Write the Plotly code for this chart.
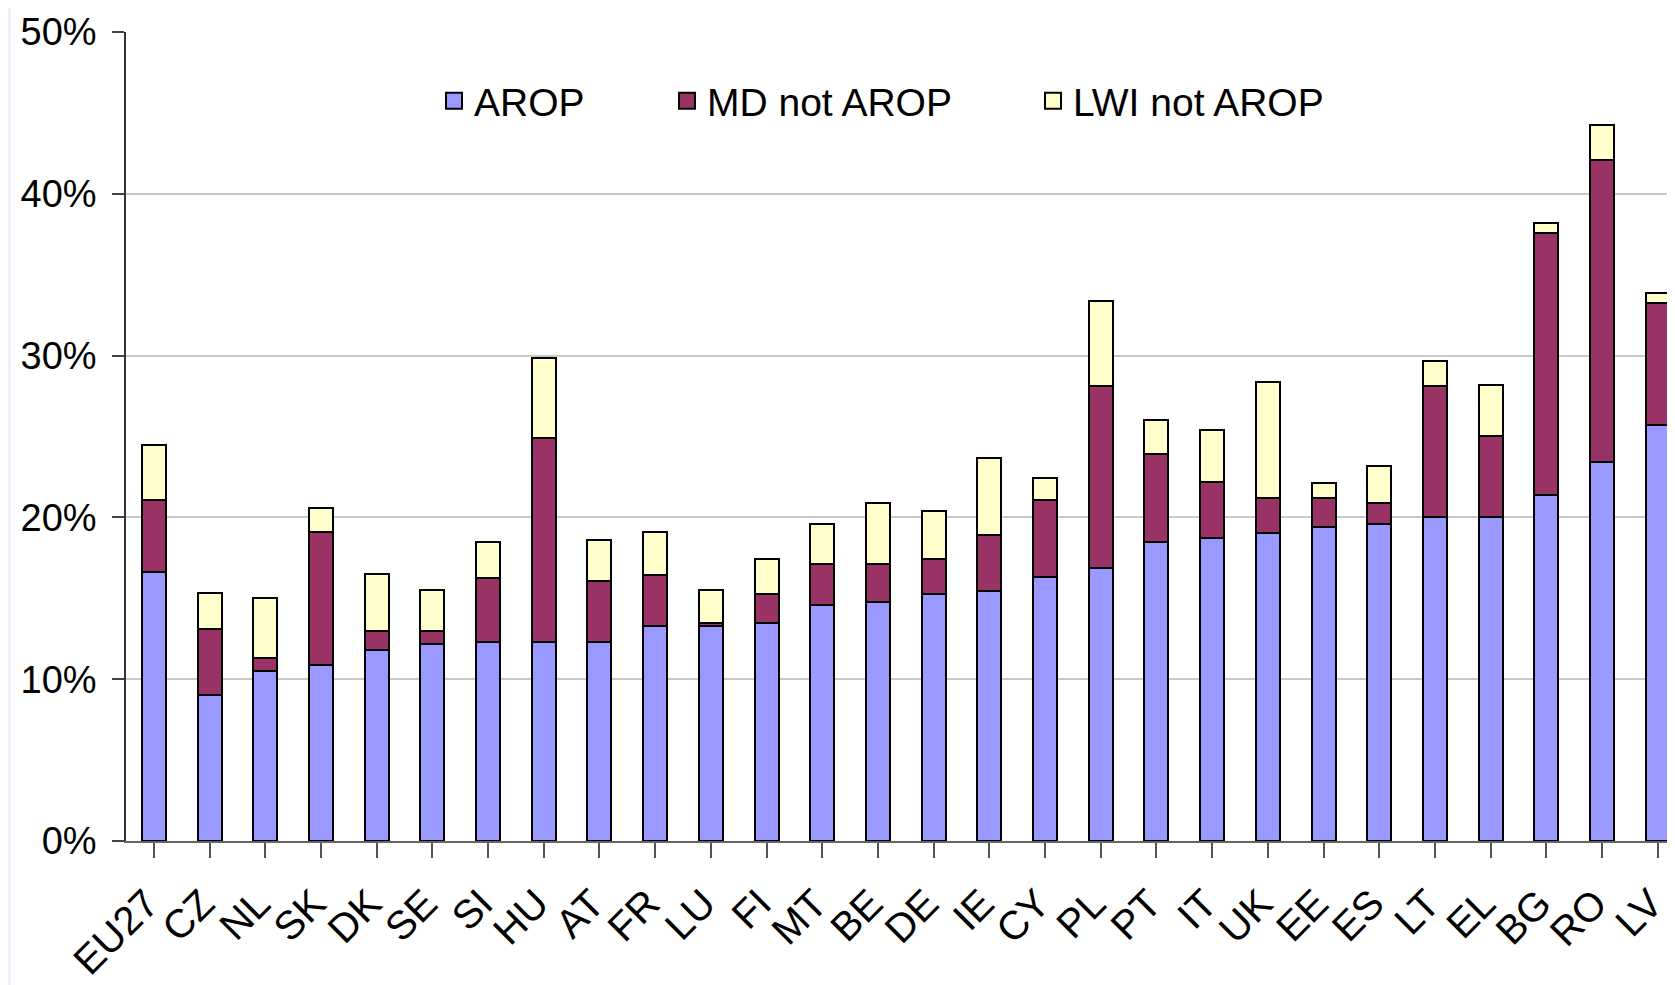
import plotly.graph_objects as go

countries = ["EU27", "CZ", "NL", "SK", "DK", "SE", "SI", "HU", "AT", "FR", "LU", "FI", "MT", "BE",
             "DE", "IE", "CY", "PL", "PT", "IT", "UK", "EE", "ES", "LT", "EL", "BG", "RO", "LV"]

arop = [16.6, 9.0, 10.5, 10.85, 11.8, 12.15, 12.3, 12.3, 12.3, 13.3, 13.3, 13.45, 14.6, 14.8,
        15.25, 15.45, 16.3, 16.9, 18.45, 18.75, 19.05, 19.4, 19.6, 20.05, 20.05, 21.4, 23.4, 25.7]
md_not_arop = [4.45, 4.1, 0.8, 8.25, 1.2, 0.8, 3.95, 12.6, 3.8, 3.15, 0.2, 1.8, 2.5, 2.3,
               2.15, 3.45, 4.75, 11.25, 5.45, 3.45, 2.15, 1.8, 1.3, 8.1, 5.0, 16.15, 18.7, 7.55]
lwi_not_arop = [3.45, 2.2, 3.7, 1.5, 3.5, 2.55, 2.2, 4.95, 2.5, 2.65, 2.0, 2.2, 2.5, 3.8,
                3.0, 4.8, 1.4, 5.25, 2.15, 3.2, 7.15, 0.9, 2.3, 1.5, 3.15, 0.65, 2.15, 0.65]

series_names = ["AROP", "MD not AROP", "LWI not AROP"]
series_values = [arop, md_not_arop, lwi_not_arop]
colors = ["#9999FF", "#993366", "#FFFFCC"]
legend_ids = ["legend", "legend2", "legend3"]

y_ticks = [0, 10, 20, 30, 40, 50]
y_tick_labels = ["0%", "10%", "20%", "30%", "40%", "50%"]

FONT = "Liberation Sans, Arial, sans-serif"

fig = go.Figure()
for name, vals, col, lg in zip(series_names, series_values, colors, legend_ids):
    fig.add_trace(go.Bar(
        x=list(range(len(countries))), y=vals, name=name,
        marker=dict(color=col, line=dict(color="black", width=2)),
        width=0.43, showlegend=False, legendgroup=name,
        hovertemplate="%{customdata}: %{y:.1f}%<extra>" + name + "</extra>",
        customdata=countries,
    ))
    # legend entry (square swatch)
    fig.add_trace(go.Scatter(
        x=[None], y=[None], mode="markers", name=name, legendgroup=name, legend=lg,
        marker=dict(symbol="square", size=22, color=col, line=dict(color="black", width=2)),
        showlegend=True, hoverinfo="skip",
    ))

# page body has an 8px margin; compensate so plot area lands where the reference has it
OFF = 8
W, H = 1675 - OFF, 985 - OFF
ml, mr, mt, mb = 126 - OFF, 0, 32 - OFF, 144
pw = W - ml - mr
ph = H - mt - mb

def px_x(px):
    return (px - OFF - ml) / pw

def px_y(py):
    return 1 - (py - OFF - mt) / ph

legend_common = dict(orientation="h", yanchor="middle", xanchor="left",
                     font=dict(family=FONT, size=39, color="black"),
                     bgcolor="rgba(0,0,0,0)", borderwidth=0)

fig.update_layout(
    width=W, height=H,
    margin=dict(l=ml, r=mr, t=mt, b=mb),
    barmode="stack",
    plot_bgcolor="white", paper_bgcolor="white",
    font=dict(family=FONT, size=38, color="black"),
    legend=dict(x=px_x(434), y=px_y(101), **legend_common),
    legend2=dict(x=px_x(667), y=px_y(101), **legend_common),
    legend3=dict(x=px_x(1033), y=px_y(101), **legend_common),
    xaxis=dict(
        range=[-0.5, 27.31],
        tickmode="array", tickvals=list(range(len(countries))), ticktext=countries,
        tickangle=-45, tickson="boundaries", ticks="outside", ticklen=15, tickwidth=1.5,
        tickcolor="#555555", showline=True, linecolor="#666666", linewidth=2,
        showgrid=False, zeroline=False, ticklabeloverflow="allow",
        ticklabelshift=-7, ticklabelstandoff=6,
        tickfont=dict(family=FONT, size=40, color="black"),
    ),
    yaxis=dict(
        range=[0, 50], tickmode="array", tickvals=y_ticks, ticktext=y_tick_labels,
        ticks="outside", ticklen=12, tickwidth=1.5, tickcolor="#444444",
        showline=True, linecolor="#333333", linewidth=1.5,
        showgrid=True, gridcolor="#c8c8c8", gridwidth=1.5, zeroline=False,
        tickfont=dict(family=FONT, size=38, color="black"),
        ticklabelstandoff=8,
    ),
    shapes=[dict(type="rect", xref="paper", yref="paper",
                 x0=-ml / pw, x1=(3 - ml) / pw, y0=-mb / ph, y1=1 + mt / ph,
                 fillcolor="#edf1fb", line=dict(width=0), layer="below")],
)

fig.write_html("out.html")
